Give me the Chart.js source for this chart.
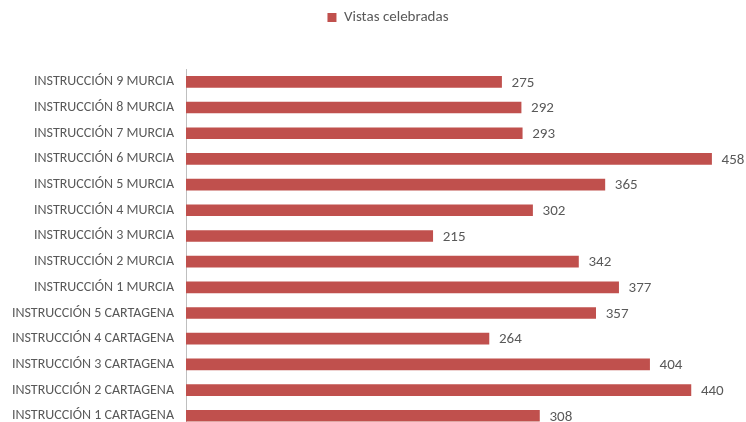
<!DOCTYPE html>
<html>
<head>
<meta charset="utf-8">
<script src="https://cdn.jsdelivr.net/npm/chart.js@4"></script>
<style>
  html, body { margin: 0; padding: 0; background: #fff; overflow: hidden; }
  canvas { display: block; }
</style>
</head>
<body>
<canvas id="chart" width="746" height="449"></canvas>
<script>
// Categories, top to bottom
const categories = [
  'INSTRUCCIÓN 9 MURCIA',
  'INSTRUCCIÓN 8 MURCIA',
  'INSTRUCCIÓN 7 MURCIA',
  'INSTRUCCIÓN 6 MURCIA',
  'INSTRUCCIÓN 5 MURCIA',
  'INSTRUCCIÓN 4 MURCIA',
  'INSTRUCCIÓN 3 MURCIA',
  'INSTRUCCIÓN 2 MURCIA',
  'INSTRUCCIÓN 1 MURCIA',
  'INSTRUCCIÓN 5 CARTAGENA',
  'INSTRUCCIÓN 4 CARTAGENA',
  'INSTRUCCIÓN 3 CARTAGENA',
  'INSTRUCCIÓN 2 CARTAGENA',
  'INSTRUCCIÓN 1 CARTAGENA',
];
const seriesName = 'Vistas celebradas';
const vistas = [275, 292, 293, 458, 365, 302, 215, 342, 377, 357, 264, 404, 440, 308];

const textColor = '#595959';
const barColor = '#c0504d';
const fontFamily = "Carlito, 'Open Sans', sans-serif";

// Push the plot area down, away from the legend, and nudge the legend right
const legendSpacer = {
  id: 'legendSpacer',
  afterInit(chart) {
    const origFit = chart.legend.fit;
    chart.legend.fit = function () {
      origFit.bind(chart.legend)();
      this.height += 34;
    };
  },
  afterLayout(chart) {
    chart.legend.left += 30;
  },
};

// Value written just after the end of each bar
const valueLabels = {
  id: 'valueLabels',
  afterDatasetsDraw(chart) {
    const { ctx } = chart;
    const meta = chart.getDatasetMeta(0);
    ctx.save();
    ctx.fillStyle = textColor;
    ctx.font = `15px ${fontFamily}`;
    ctx.textAlign = 'left';
    ctx.textBaseline = 'middle';
    meta.data.forEach((bar, i) => {
      ctx.fillText(String(chart.data.datasets[0].data[i]), bar.x + 10, bar.y + 1);
    });
    ctx.restore();
  },
};

new Chart(document.getElementById('chart'), {
  type: 'bar',
  data: {
    labels: categories,
    datasets: [
      {
        label: seriesName,
        data: vistas,
        backgroundColor: barColor,
        borderWidth: 0,
        barThickness: 11,
      },
    ],
  },
  options: {
    indexAxis: 'y',
    responsive: false,
    animation: false,
    layout: { padding: { left: 0, right: 0, top: 0, bottom: 12 } },
    scales: {
      x: {
        display: false,
        min: 0,
        max: 488,
      },
      y: {
        grid: { display: false, drawTicks: false },
        border: { display: true, color: '#bfbfbf', width: 1 },
        ticks: {
          color: textColor,
          padding: 12,
          font: { family: fontFamily, size: 14 },
        },
        afterFit(scale) {
          scale.width = 186;
        },
      },
    },
    plugins: {
      legend: {
        position: 'top',
        labels: {
          color: textColor,
          boxWidth: 9,
          boxHeight: 9,
          padding: 10,
          font: { family: fontFamily, size: 15 },
        },
      },
      tooltip: { enabled: false },
    },
  },
  plugins: [legendSpacer, valueLabels],
});
</script>
</body>
</html>
